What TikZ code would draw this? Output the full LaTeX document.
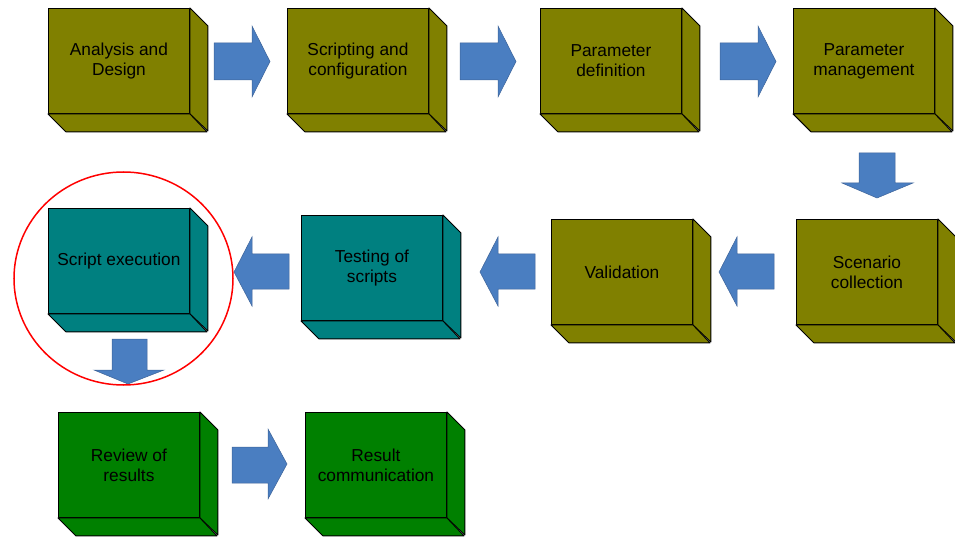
\documentclass[tikz,border=0pt]{standalone}
\usepackage{fontspec}
\setmainfont{Liberation Sans}
\definecolor{boxolive}{HTML}{808000}
\definecolor{boxteal}{HTML}{008080}
\definecolor{boxgreen}{HTML}{008000}
\definecolor{flowblue}{HTML}{4A7EC1}
\definecolor{flowedge}{HTML}{3E6499}
\begin{document}
\begin{tikzpicture}[x=1pt,y=-1pt,
  face/.style={draw=black, line width=0.9pt, line join=round},
  stage/.style={face, rectangle, anchor=north west, minimum width=141pt,
    minimum height=105pt, inner sep=0pt, align=center,
    font=\fontsize{17.3}{20}\selectfont},
  flow/.style={fill=flowblue, draw=flowedge, line width=0.5pt, line join=miter},
  focus/.style={draw=red, line width=1.5pt}
]
\useasboundingbox (0,0) rectangle (955,537);

% front faces of the process stages
\node[stage, fill=boxolive] (an)  at (48,8)    {Analysis and\\Design};
\node[stage, fill=boxolive] (sc)  at (287,8)   {Scripting and\\configuration};
\node[stage, fill=boxolive] (pd)  at (540,8)   {Parameter\\definition};
\node[stage, fill=boxolive] (pm)  at (793,8)   {Parameter\\management};
\node[stage, fill=boxolive] (scn) at (796,219) {Scenario\\collection};
\node[stage, fill=boxolive] (val) at (551,219) {Validation};
\node[stage, fill=boxteal]  (tst) at (301,215) {Testing of\\scripts};
\node[stage, fill=boxteal]  (exe) at (48,208)  {Script execution};
\node[stage, fill=boxgreen] (rev) at (58,412)  {Review of\\results};
\node[stage, fill=boxgreen] (com) at (305,412) {Result\\communication};

% side and bottom faces giving each stage its depth
\foreach \n/\c in {an/boxolive, sc/boxolive, pd/boxolive, pm/boxolive,
                   scn/boxolive, val/boxolive, tst/boxteal, exe/boxteal,
                   rev/boxgreen, com/boxgreen}{
  \draw[face, fill=\c] (\n.north east) -- ++(18,18) -- ++(0,105)
        -- (\n.south east) -- cycle;
  \draw[face, fill=\c] (\n.south west) -- ++(18,18) -- ++(141,0)
        -- (\n.south east) -- cycle;
}

% block arrows, first row (pointing right)
\foreach \a in {214, 460, 720}{
  \draw[flow] (\a,43) -- ++(38,0) -- ++(0,-17) -- ++(18,35.5)
        -- ++(-18,35.5) -- ++(0,-17) -- ++(-38,0) -- cycle;
}
% down arrow towards the second row
\draw[flow] (859,153) -- (895,153) -- (895,183) -- (913,183) -- (877,198)
      -- (842,183) -- (859,183) -- cycle;
% second row (pointing left)
\foreach \a in {234, 480, 719}{
  \draw[flow] (\a,272) -- ++(18,-35) -- ++(0,17) -- ++(37,0) -- ++(0,35)
        -- ++(-37,0) -- ++(0,17) -- cycle;
}
% down arrow towards the third row
\draw[flow] (112,339) -- (147,339) -- (147,370) -- (164,370) -- (128,384)
      -- (94,370) -- (112,370) -- cycle;
% third row (pointing right)
\draw[flow] (232,447) -- (268,447) -- (268,429) -- (287,464) -- (268,499)
      -- (268,483) -- (232,483) -- cycle;

% highlight around the execution stage
\draw[focus] (123.5,278.5) ellipse [x radius=109.5, y radius=106.5];
\end{tikzpicture}
\end{document}
